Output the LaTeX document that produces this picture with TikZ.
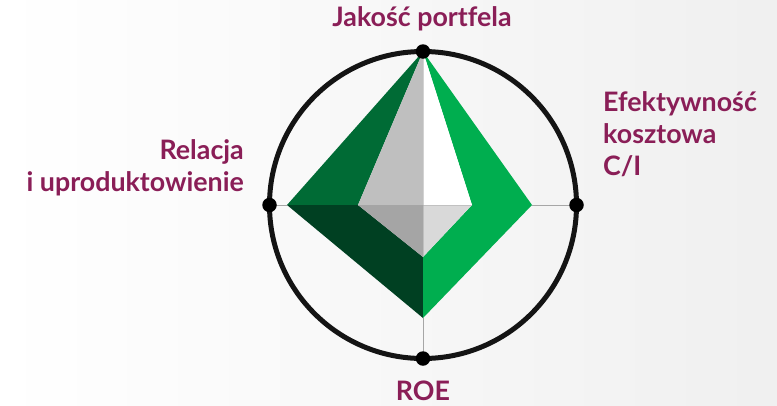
\documentclass[tikz,border=0pt]{standalone}
\usepackage{fontspec}
\setmainfont[Ligatures=NoCommon]{Lato}
\definecolor{lab}{HTML}{8A1E57}
\definecolor{gA}{HTML}{006B35}
\definecolor{gB}{HTML}{004022}
\definecolor{gC}{HTML}{00AE4F}
\definecolor{grA}{HTML}{BFBFBF}
\definecolor{grB}{HTML}{A5A5A5}
\definecolor{grC}{HTML}{D9D9D9}
\tikzset{
  lbl/.style={text=lab, font=\fontsize{26.8}{32}\selectfont\bfseries, inner sep=0pt},
  dot/.style={circle, fill=black, inner sep=0pt, minimum size=14.5pt},
  axis/.style={draw=gray!70, line width=0.9pt},
}
\begin{document}
\begin{tikzpicture}[x=1pt,y=-1pt]
\useasboundingbox (0,0) rectangle (777,405);
\shade[left color=white, right color=black!6] (0,0) rectangle (777,405);
% key points
\coordinate (O) at (423,205);
\coordinate (T) at (423,51.5);
\coordinate (B) at (423,358.5);
\coordinate (L) at (269.5,205);
\coordinate (R) at (576.5,205);
\coordinate (OL) at (287,205);
\coordinate (OR) at (532,205);
\coordinate (OB) at (423,318);
\coordinate (IL) at (358,205);
\coordinate (IR) at (472,205);
\coordinate (IB) at (423,257);
% axes outside the diamond
\draw[axis] (L) -- (OL);
\draw[axis] (OR) -- (R);
\draw[axis] (OB) -- (B);
% diamond faces
\fill[gA] (T) -- (OL) -- (IL) -- cycle;
\fill[gB] (OL) -- (OB) -- (IB) -- (IL) -- cycle;
\fill[gC] (T) -- (IR) -- (IB) -- (OB) -- (OR) -- cycle;
\fill[grA] (T) -- (IL) -- (O) -- cycle;
\fill[grB] (IL) -- (IB) -- (O) -- cycle;
\fill[grC] (O) -- (IR) -- (IB) -- cycle;
\fill[white] (T) -- (IR) -- (O) -- cycle;
% axes inside inner diamond
\draw[axis, draw opacity=0.5] (IL) -- (IR);
\draw[axis, draw opacity=0.5] (T) -- (IB);
% circle
\draw[line width=5pt, black!92] (O) circle[radius=153.5];
\node[dot] (dT) at (T) {};
\node[dot] (dB) at (B) {};
\node[dot] (dL) at (L) {};
\node[dot] (dR) at (R) {};
% labels
\node[lbl, anchor=base] (lT) at (422,26.7) {Jakość portfela};
\node[lbl, anchor=base east, align=right] (lL) at (244,191.7) {Relacja\\i uproduktowienie};
\node[lbl, anchor=base west, align=left] (lR) at (603,175) {Efektywność\\kosztowa\\C/I};
\node[lbl, anchor=base] (lB) at (423,400.5) {ROE};
\end{tikzpicture}
\end{document}
